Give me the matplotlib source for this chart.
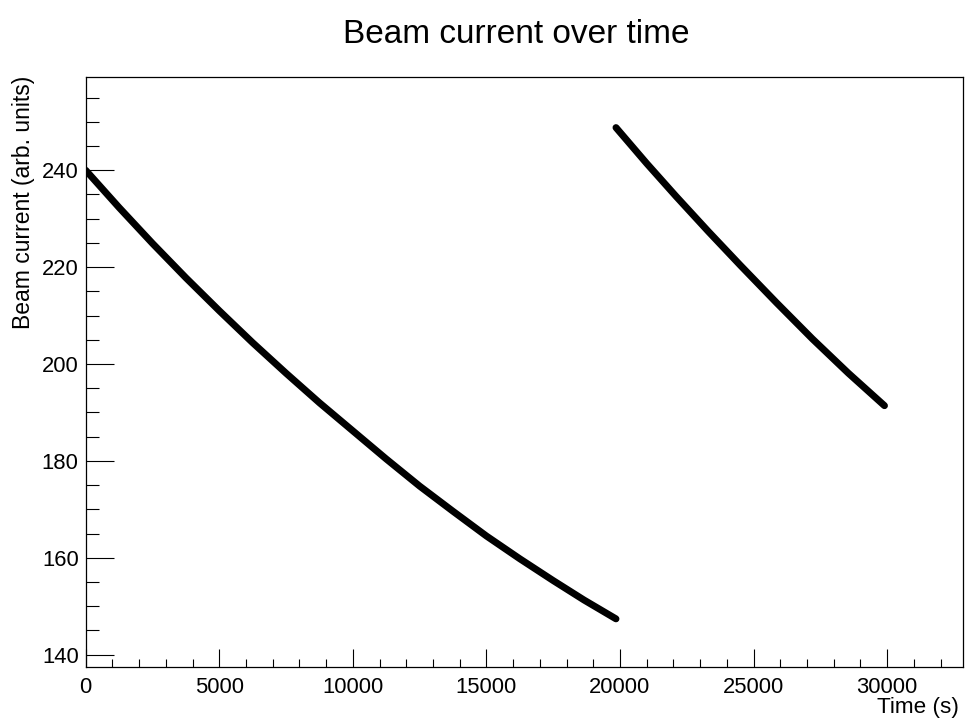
import numpy as np
import matplotlib.pyplot as plt
from matplotlib.ticker import MultipleLocator

plt.rcParams['font.family'] = ['Liberation Sans', 'DejaVu Sans']

# %% data -----

# first fill
time_1 = [0, 1250, 2500, 3750, 5000, 6250, 7500, 8750, 10000, 11250,
          12500, 13750, 15000, 16250, 17500, 18650, 19850]
current_1 = [240.0, 232.3, 224.9, 217.8, 211.0, 204.4, 198.1, 192.0, 186.2,
             180.4, 174.8, 169.6, 164.5, 159.8, 155.3, 151.3, 147.4]

# second fill
time_2 = [19850, 21000, 22100, 23300, 24500, 25850, 27200, 28550, 29900]
current_2 = [248.8, 241.4, 234.6, 227.4, 220.4, 212.7, 205.2, 198.1, 191.4]

# %% plot -----

fig = plt.figure(figsize=(9.66, 7.19), dpi=100)
ax = fig.add_axes([0.0887, 0.0719, 0.9085, 0.8214])

ax.plot(time_1, current_1, color='black', lw=5.0, solid_capstyle='round')
ax.plot(time_2, current_2, color='black', lw=5.0, solid_capstyle='round')

ax.set_xlim(0, 32850)
ax.set_ylim(137.4, 259.3)

ax.xaxis.set_major_locator(MultipleLocator(5000))
ax.xaxis.set_minor_locator(MultipleLocator(1000))
ax.yaxis.set_major_locator(MultipleLocator(20))
ax.yaxis.set_minor_locator(MultipleLocator(5))

ax.tick_params(axis='both', which='both', direction='in', width=0.8,
               top=False, right=False, labelsize=15.8, colors='black')
ax.tick_params(axis='x', which='major', length=13, pad=7)
ax.tick_params(axis='x', which='minor', length=6)
ax.tick_params(axis='y', which='major', length=20, pad=5)
ax.tick_params(axis='y', which='minor', length=9.6)
for sp in ax.spines.values():
    sp.set_linewidth(0.9)

fig.text(0.534, 0.952, 'Beam current over time', ha='center', va='center',
         fontsize=24)
fig.text(0.993, 1 - 718 / 719, 'Time (s)', ha='right', va='bottom',
         fontsize=16.2)
fig.text(0.024, 1 - 76 / 719, 'Beam current (arb. units)', ha='center',
         va='top', rotation=90, fontsize=16.5)

plt.savefig('out.png', dpi=100)
